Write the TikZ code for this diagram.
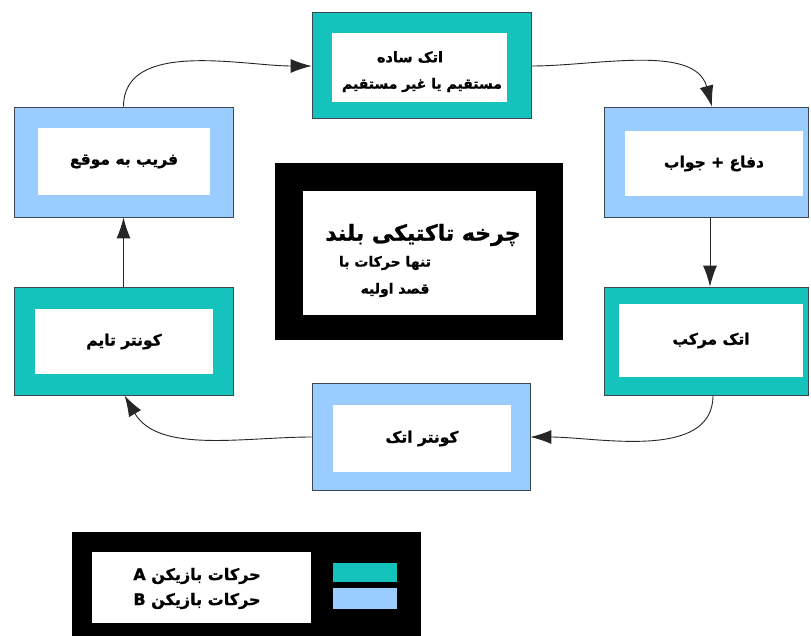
\documentclass[tikz,border=0pt]{standalone}
\usepackage{fontspec}
\usetikzlibrary{arrows.meta}
\TeXXeTstate=1
\newfontfamily\fafont[Script=Arabic, FakeBold=1.2]{DejaVu Sans Bold}
\newcommand{\fatext}[1]{{\fafont\beginR #1\endR}}
\definecolor{tealA}{RGB}{20,196,188}
\definecolor{blueB}{RGB}{153,204,255}
\definecolor{edgegray}{RGB}{60,70,80}
\tikzset{
  outerbox/.style={draw=edgegray, line width=0.8pt, minimum width=#1, inner sep=0pt},
  tealbox/.style={fill=tealA},
  bluebox/.style={fill=blueB},
  innerbox/.style={fill=white, inner sep=0pt, align=center, font=\fontsize{15.5}{28}\selectfont},
  conn/.style={draw=black!85, line width=0.9pt, -{Latex[length=21pt,width=14pt]}}
}
\begin{document}
\begin{tikzpicture}[x=1pt,y=-1pt]
\fill[white] (0,0) rectangle (811,635);
\useasboundingbox (0,0) rectangle (811,635);
% outer boxes
\node[outerbox=219pt, minimum height=106pt, tealbox] (top) at (421.5,65) {};
\node[outerbox=219pt, minimum height=110pt, bluebox] (tl) at (123.5,162) {};
\node[outerbox=204pt, minimum height=110pt, bluebox] (tr) at (706,162) {};
\node[outerbox=287pt, minimum height=176pt, fill=black, draw=black] (ctr) at (418.5,251) {};
\node[outerbox=219pt, minimum height=108pt, tealbox] (bl) at (123.5,341) {};
\node[outerbox=204pt, minimum height=108pt, tealbox] (br) at (706,341) {};
\node[outerbox=218pt, minimum height=107pt, bluebox] (bc) at (421,436.5) {};
\node[outerbox=348pt, minimum height=103pt, fill=black, draw=black] (leg) at (246,583.5) {};
% inner boxes
\node[innerbox, minimum width=175pt, minimum height=69pt] (topin) at (419.5,67.5) {};
\node[font=\fontsize{14.5}{16}\selectfont] (top1) at (410,57) {\fatext{اتک ساده}};
\node[font=\fontsize{14}{16}\selectfont] (top2) at (422,85) {\fatext{مستقیم یا غیر مستقیم}};
\node[innerbox, minimum width=172pt, minimum height=67pt] (tlin) at (124,161.5) {\fatext{فریب به موقع}};
\node[innerbox, minimum width=178pt, minimum height=65pt] (trin) at (714,163.5) {\fatext{دفاع + جواب}};
\node[innerbox, minimum width=233pt, minimum height=124pt] (ctrin) at (419.5,253) {};
\node[font=\fontsize{22}{24}\selectfont] (ctrt1) at (423,235) {\fatext{چرخه تاکتیکی بلند}};
\node[font=\fontsize{14}{16}\selectfont] (ctrt2) at (385,263) {\fatext{تنها حرکات با}};
\node[font=\fontsize{14}{16}\selectfont] (ctrt3) at (395,290) {\fatext{قصد اولیه}};
\node[innerbox, minimum width=178pt, minimum height=65pt] (blin) at (124,341.5) {\fatext{کونتر تایم}};
\node[innerbox, minimum width=184pt, minimum height=73pt] (brin) at (711,340.5) {\fatext{اتک مرکب}};
\node[innerbox, minimum width=178pt, minimum height=67pt] (bcin) at (422,438.5) {\fatext{کونتر اتک}};
% legend
\node[innerbox, minimum width=219pt, minimum height=71pt] (legin) at (201.5,587.5) {};
\node[font=\fontsize{16}{18}\selectfont] (legA) at (197,576) {\fatext{حرکات بازیکن A}};
\node[font=\fontsize{16}{18}\selectfont] (legB) at (197,601) {\fatext{حرکات بازیکن B}};
\node[fill=tealA, minimum width=64pt, minimum height=19pt, inner sep=0pt] (swA) at (365,572.5) {};
\node[fill=blueB, minimum width=64pt, minimum height=21pt, inner sep=0pt] (swB) at (365,598.5) {};
% connectors
\draw[conn] (tl.north) to[out=90, in=180, looseness=0.9] (top.west |- 0,66);
\draw[conn] (top.east |- 0,66) to[out=0, in=105, looseness=0.9] ([xshift=6pt]tr.north);
\draw[conn] ([xshift=4pt]tr.south) -- ([xshift=4pt]br.north);
\draw[conn] ([xshift=7pt]br.south) to[out=-90, in=0, looseness=0.9] (bc.east |- 0,437);
\draw[conn] (bc.west |- 0,437) to[out=180, in=-60, looseness=0.9] ([xshift=1pt]bl.south);
\draw[conn] (bl.north) -- (tl.south);
\end{tikzpicture}
\end{document}
